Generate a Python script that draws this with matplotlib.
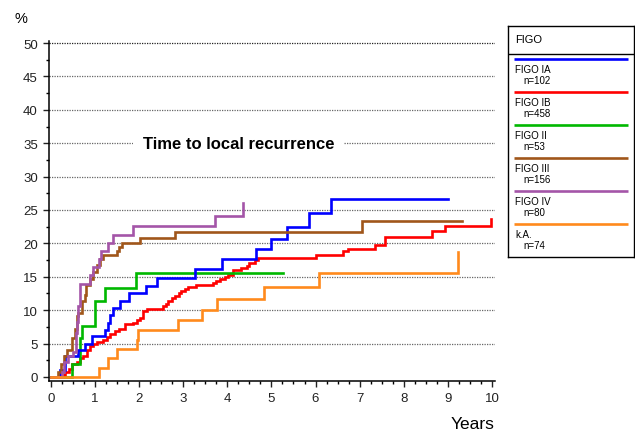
import matplotlib
matplotlib.use("Agg")
import matplotlib.pyplot as plt
from matplotlib.ticker import MultipleLocator
import numpy as np

plt.rcParams['font.family'] = ['Liberation Sans', 'DejaVu Sans']

# cumulative local recurrence (%) by FIGO stage: jump times (years) and values after each jump
labels = ["FIGO IA", "FIGO IB", "FIGO II", "FIGO III", "FIGO IV", "k.A."]
counts = [102, 458, 53, 156, 80, 74]
colors = ["#0000FF", "#FF0000", "#00B800", "#A0561A", "#A455A8", "#FF8A1C"]

ia_t = [0, 0.2, 0.32, 0.62, 0.77, 0.92, 1.22, 1.3, 1.34, 1.41, 1.56, 1.78, 2.15, 2.4,
        3.27, 3.87, 4.66, 5.0, 5.36, 5.86, 6.34]
ia_p = [0, 1.0, 3.1, 4.0, 5.0, 6.1, 7.1, 8.1, 9.35, 10.35, 11.35, 12.5, 13.6, 14.85,
        16.1, 17.6, 19.1, 20.7, 22.5, 24.5, 26.7]
ia_end = 9.0

ib_t = [0, 0.24, 0.32, 0.40, 0.47, 0.58, 0.66, 0.72, 0.81, 0.88, 0.96, 1.04, 1.19, 1.28,
        1.34, 1.45, 1.55, 1.68, 1.87, 1.95, 2.02, 2.09, 2.17, 2.55, 2.60, 2.66, 2.75, 2.81,
        2.90, 2.96, 3.05, 3.11, 3.30, 3.68, 3.75, 3.83, 3.95, 4.02, 4.13, 4.30, 4.44, 4.50,
        4.63, 4.70, 6.0, 6.63, 6.74, 7.35, 7.57, 8.65, 8.93, 9.99]
ib_p = [0, 0.3, 0.8, 1.2, 1.9, 2.3, 2.8, 3.2, 4.0, 4.7, 5.0, 5.2, 5.6, 6.0,
        6.4, 6.9, 7.2, 7.9, 8.1, 8.5, 8.9, 9.9, 10.2, 10.6, 11.0, 11.4, 11.8, 12.1,
        12.5, 12.9, 13.2, 13.4, 13.7, 14.1, 14.3, 14.6, 15.0, 15.2, 16.0, 16.3, 16.6, 17.1,
        17.5, 17.8, 18.3, 18.8, 19.2, 19.8, 20.9, 21.8, 22.6, 23.6]
ib_end = 9.99

ii_t = [0, 0.48, 0.66, 0.71, 1.0, 1.22, 1.92]
ii_p = [0, 2.0, 5.8, 7.6, 11.4, 13.3, 15.6]
ii_end = 5.27

iii_t = [0, 0.17, 0.22, 0.29, 0.36, 0.47, 0.54, 0.60, 0.62, 0.70, 0.77, 0.80, 0.88, 0.96,
         1.04, 1.11, 1.19, 1.49, 1.55, 1.6, 2.02, 2.81, 7.06]
iii_p = [0, 0.7, 1.9, 3.2, 4.0, 5.9, 7.2, 9.2, 9.6, 11.4, 12.2, 13.7, 14.7, 15.7,
         16.7, 17.6, 18.2, 18.9, 19.5, 20.1, 20.85, 21.7, 23.4]
iii_end = 9.32

iv_t = [0, 0.24, 0.3, 0.39, 0.51, 0.57, 0.58, 0.62, 0.66, 0.88, 0.96, 1.10, 1.14, 1.30,
        1.41, 1.87, 3.72, 4.36]
iv_p = [0, 0.8, 2.2, 3.1, 3.8, 6.6, 8.2, 10.7, 13.9, 15.2, 16.5, 17.6, 18.8, 20.1,
        21.3, 22.6, 24.1, 26.0]
iv_end = 4.36

ka_t = [0, 1.10, 1.30, 1.49, 1.94, 1.98, 2.89, 3.43, 3.77, 4.84, 6.07, 9.22]
ka_p = [0, 1.4, 2.8, 4.2, 5.6, 7.0, 8.5, 10.0, 11.7, 13.5, 15.6, 18.7]
ka_end = 9.22

series = [(ia_t, ia_p, ia_end), (ib_t, ib_p, ib_end), (ii_t, ii_p, ii_end),
          (iii_t, iii_p, iii_end), (iv_t, iv_p, iv_end), (ka_t, ka_p, ka_end)]

fig = plt.figure(figsize=(6.35, 4.31), dpi=100)
ax = fig.add_axes([49 / 635, 1 - 382 / 431, 446 / 635, 340 / 431])

# dotted horizontal grid
for y in range(5, 51, 5):
    ax.axhline(y, color="#222222" if y == 50 else "#666666", lw=0.9,
               linestyle=(0, (1, 1)), zorder=1)

draw_order = [1, 2, 0, 3, 4, 5]
for i in draw_order:
    t, p, end = series[i]
    t = np.append(t, end)
    p = np.append(p, p[-1])
    ax.step(t, p, where="post", color=colors[i], lw=1.9, zorder=3,
            solid_joinstyle="miter")

ax.set_xlim(-0.045, 10.07)
ax.set_ylim(-0.6, 50.3)
ax.xaxis.set_major_locator(MultipleLocator(1))
ax.xaxis.set_minor_locator(MultipleLocator(0.25))
ax.yaxis.set_major_locator(MultipleLocator(5))
ax.yaxis.set_minor_locator(MultipleLocator(2.5))
ax.tick_params(which="major", length=4, width=1, labelsize=9.5, colors="#222222", pad=4)
ax.tick_params(which="minor", length=2.5, width=1)
ax.tick_params(axis="x", which="both", direction="out")
for s in ["top", "right"]:
    ax.spines[s].set_visible(False)
for s in ["left", "bottom"]:
    ax.spines[s].set_linewidth(1.1)

ax.text(4.26, 35, "Time to local recurrence", ha="center", va="center",
        fontsize=12, fontweight="bold", zorder=2,
        bbox=dict(facecolor="white", edgecolor="none", pad=7))

fig.text(21 / 635, 1 - 19 / 431, "%", ha="center", va="center", fontsize=10.5)
fig.text(473 / 635, 1 - 425 / 431, "Years", ha="center", va="center", fontsize=12.5)

# legend panel, laid out in pixel units
lg = fig.add_axes([508 / 635, 1 - 258 / 431, 126 / 635, 231 / 431])
lg.set_xlim(0, 126)
lg.set_ylim(231, 0)
lg.set_xticks([])
lg.set_yticks([])
for s in lg.spines.values():
    s.set_linewidth(1.0)
lg.text(7, 13, "FIGO", fontsize=8, va="center", ha="left")
lg.plot([0, 126], [28, 28], color="black", lw=1.0)
for i, (lab, n) in enumerate(zip(labels, counts)):
    y0 = 33 + 33 * i
    lg.plot([6, 120], [y0, y0], color=colors[i], lw=1.9, solid_capstyle="butt")
    lg.text(7, y0 + 10, lab, fontsize=7, va="center", ha="left")
    lg.text(15, y0 + 21, "n=%d" % n, fontsize=7, va="center", ha="left")

fig.savefig("out.png", dpi=100)
